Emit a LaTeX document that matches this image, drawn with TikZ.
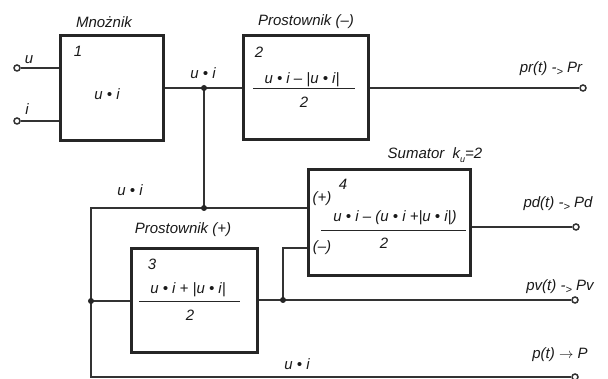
\documentclass[tikz,border=0pt]{standalone}
\usepackage{fontspec}
\setmainfont{Liberation Sans}
\begin{document}
\begin{tikzpicture}[x=1pt,y=-1pt,
  blk/.style={draw=black!85, line width=3pt, inner sep=0pt},
  wire/.style={draw=black!80, line width=1.5pt},
  txt/.style={inner sep=0pt, font=\fontsize{15}{18}\selectfont\itshape, text=black!90},
  term/.style={circle, draw=black!80, line width=1.5pt, fill=white, inner sep=0pt, minimum size=6pt},
  dot/.style={circle, fill=black!85, inner sep=0pt, minimum size=6pt},
  bar/.style={draw=black!85, line width=1pt}]
\useasboundingbox (0,0) rectangle (608,379);

% blocks
\node[blk, minimum width=103pt, minimum height=105pt] (m)  at (111.5,88.5) {};
\node[blk, minimum width=125pt, minimum height=104pt] (r2) at (305.5,88) {};
\node[blk, minimum width=162pt, minimum height=106pt] (s4) at (389,223) {};
\node[blk, minimum width=126pt, minimum height=104pt] (r3) at (194,301) {};

% block titles
\node[txt] (tm)  at (104,22)  {Mnożnik};
\node[txt] (tr2) at (306,22)  {Prostownik (–)};
\node[txt] (ts4) at (435,155) {Sumator\ \ k\raisebox{-4pt}{\fontsize{9}{9}\selectfont u}=2};
\node[txt] (tr3) at (183,230) {Prostownik (+)};

% block contents
\node[txt] (n1) at (78,51) {1};
\node[txt] (f1) at (107,94) {u • i};

\node[txt] (n2) at (259,52) {2};
\node[txt] (a2) at (302,80) {u • i – |u • i|};
\coordinate (b2l) at (253,89); \coordinate (b2r) at (355,89);
\draw[bar] (b2l) -- (b2r);
\node[txt] (d2) at (304,102) {2};

\node[txt] (n3) at (152,264) {3};
\node[txt] (a3) at (188,290) {u • i + |u • i|};
\coordinate (b3l) at (139,302); \coordinate (b3r) at (240,302);
\draw[bar] (b3l) -- (b3r);
\node[txt] (d3) at (190,315) {2};

\node[txt] (n4) at (343,184) {4};
\node[txt] (pl) at (322,199) {(+)};
\node[txt] (a4) at (395,218) {u • i – (u • i +|u • i|)};
\coordinate (b4l) at (321,231); \coordinate (b4r) at (466,231);
\draw[bar] (b4l) -- (b4r);
\node[txt] (d4) at (384,243) {2};
\node[txt] (mi) at (322,248) {(–)};

% terminals
\node[term] (tu)  at (17,68) {};
\node[term] (ti)  at (17,121) {};
\node[term] (opr) at (583,88) {};
\node[term] (opd) at (576,227) {};
\node[term] (opv) at (575,300) {};
\node[term] (op)  at (575,377) {};

% junctions and corners
\coordinate (j1) at (204,88);
\coordinate (j2) at (204,208);
\coordinate (lt) at (91,208);
\coordinate (j3) at (91,301);
\coordinate (lb) at (91,377);
\coordinate (j4) at (283,300);
\coordinate (sm) at (283,248);

% wires
\draw[wire] (tu) -- (m.west |- tu);
\draw[wire] (ti) -- (m.west |- ti);
\draw[wire] (m.east |- j1) -- (j1) -- (r2.west |- j1);
\draw[wire] (r2.east |- opr) -- (opr);
\draw[wire] (j1) -- (j2);
\draw[wire] (s4.west |- j2) -- (lt) -- (lb) -- (op);
\draw[wire] (j3) -- (r3.west |- j3);
\draw[wire] (r3.east |- j4) -- (opv);
\draw[wire] (j4) -- (sm) -- (s4.west |- sm);
\draw[wire] (s4.east |- opd) -- (opd);

% junction dots
\node[dot] (d_j1) at (j1) {};
\node[dot] (d_j2) at (j2) {};
\node[dot] (d_j3) at (j3) {};
\node[dot] (d_j4) at (j4) {};

% signal labels
\node[txt] (lu)  at (29,60)  {u};
\node[txt] (li)  at (27,109) {i};
\node[txt] (l1)  at (203,73) {u • i};
\node[txt] (l2)  at (130,190) {u • i};
\node[txt] (l3)  at (297,364) {u • i};
\node[txt] (lpr) at (551,69) {pr(t) -{\raisebox{-3pt}{\fontsize{11}{11}\selectfont >}} Pr};
\node[txt] (lpd) at (558,204) {pd(t) -{\raisebox{-3pt}{\fontsize{11}{11}\selectfont >}} Pd};
\node[txt] (lpv) at (560,287) {pv(t) -{\raisebox{-3pt}{\fontsize{11}{11}\selectfont >}} Pv};
\node[txt] (lp)  at (560,355) {p(t) {\upshape$\rightarrow$} P};
\end{tikzpicture}
\end{document}
